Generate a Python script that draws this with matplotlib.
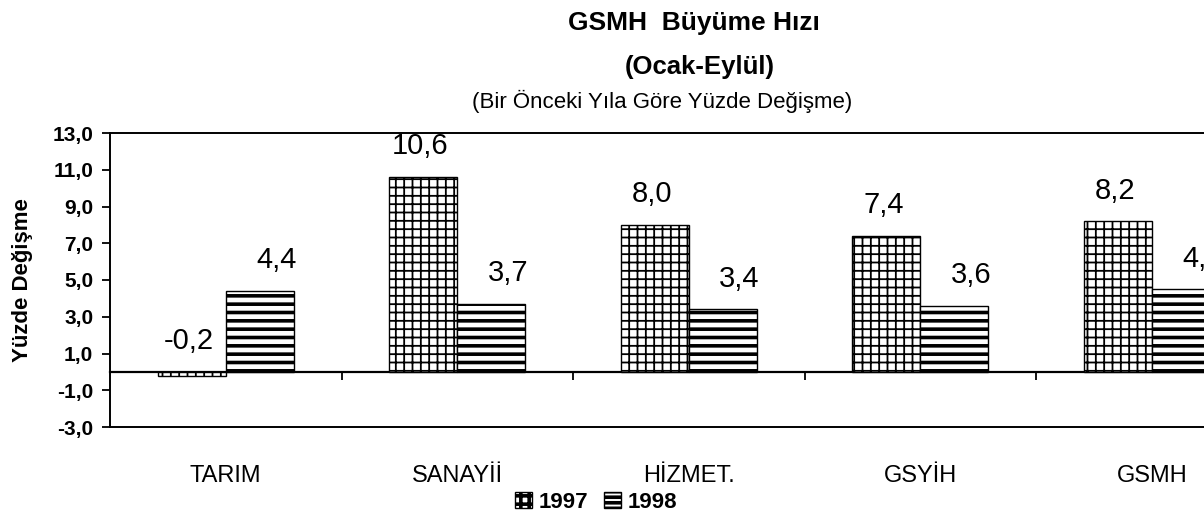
import matplotlib
matplotlib.use('Agg')
import matplotlib.pyplot as plt
from matplotlib.patches import Patch
import numpy as np

categories = ['TARIM', 'SANAYİİ', 'HİZMET.', 'GSYİH', 'GSMH']
v1997 = [-0.2, 10.6, 8.0, 7.4, 8.2]
v1998 = [4.4, 3.7, 3.4, 3.6, 4.5]
series_names = ['1997', '1998']
yticks = [-3, -1, 1, 3, 5, 7, 9, 11, 13]
ytick_labels = ['-3,0', '-1,0', '1,0', '3,0', '5,0', '7,0', '9,0', '11,0', '13,0']
title1 = 'GSMH  Büyüme Hızı'
title2 = '(Ocak-Eylül)'
title3 = '(Bir Önceki Yıla Göre Yüzde Değişme)'
ylabel = 'Yüzde Değişme'

plt.rcParams['font.family'] = ['Liberation Sans', 'DejaVu Sans']
plt.rcParams['hatch.color'] = 'black'

W, H = 1204, 521
fig = plt.figure(figsize=(W / 100, H / 100), dpi=100)
ax_left, ax_right, ax_top, ax_bot = 110, 1267.5, 133, 427
ax = fig.add_axes([ax_left / W, 1 - ax_bot / H, (ax_right - ax_left) / W, (ax_bot - ax_top) / H])

x = np.arange(len(categories))
w = 0.293
plt.rcParams['hatch.linewidth'] = 1.3
b1 = ax.bar(x - w / 2, v1997, w, facecolor='white', edgecolor='black', hatch='++', linewidth=1.0, zorder=2)
plt.rcParams['hatch.linewidth'] = 2.6
b2 = ax.bar(x + w / 2, v1998, w, facecolor='white', edgecolor='black', hatch='--', linewidth=1.0, zorder=2)

ymin, ymax = yticks[0], yticks[-1]
ax.set_ylim(ymin, ymax)
ax.set_xlim(-0.5, len(categories) - 0.5)

ax.set_yticks(yticks)
ax.set_yticklabels(ytick_labels, fontsize=15, fontweight='bold')
ax.tick_params(axis='y', direction='out', length=6, width=1.3, pad=6)
ax.set_xticks(x)
ax.set_xticklabels(categories, fontsize=17)
ax.tick_params(axis='x', length=0, pad=27)
for s in ax.spines.values():
    s.set_linewidth(1.4)

# category axis crossing at zero with boundary ticks
sec = ax.secondary_xaxis((0 - ymin) / (ymax - ymin))
sec.set_xticks(np.arange(len(categories) - 1) + 0.5)
sec.set_xticklabels([])
sec.tick_params(axis='x', direction='out', length=6, width=1.3)
sec.spines['bottom'].set_linewidth(1.6)

ax.set_ylabel(ylabel, fontsize=16, fontweight='bold', labelpad=14)

def fmt(v):
    return f'{v:.1f}'.replace('.', ',')

for xi, v in zip(x - w / 2, v1997):
    ax.annotate(fmt(v), (xi, max(v, 0)), xytext=(-2, 12), textcoords='offset points',
                ha='center', va='bottom', fontsize=21)
for xi, v in zip(x + w / 2, v1998):
    ax.annotate(fmt(v), (xi, max(v, 0)), xytext=(12, 12), textcoords='offset points',
                ha='center', va='bottom', fontsize=21, annotation_clip=False)

fig.text(694 / W, 1 - 23 / H, title1, ha='center', va='center', fontsize=19, fontweight='bold')
fig.text(700 / W, 1 - 67 / H, title2, ha='center', va='center', fontsize=18.5, fontweight='bold')
fig.text(662 / W, 1 - 101 / H, title3, ha='center', va='center', fontsize=16)

handles = [Patch(facecolor='white', edgecolor='black', hatch='++', label=series_names[0]),
           Patch(facecolor='white', edgecolor='black', hatch='---', label=series_names[1])]
fig.legend(handles=handles, loc='center', bbox_to_anchor=(596 / W, 1 - 502 / H), ncol=2,
           frameon=False, prop={'size': 16, 'weight': 'bold'}, handlelength=0.75, handleheight=0.75,
           handletextpad=0.3, columnspacing=0.7, borderpad=0)

fig.savefig('out.png', dpi=100)
